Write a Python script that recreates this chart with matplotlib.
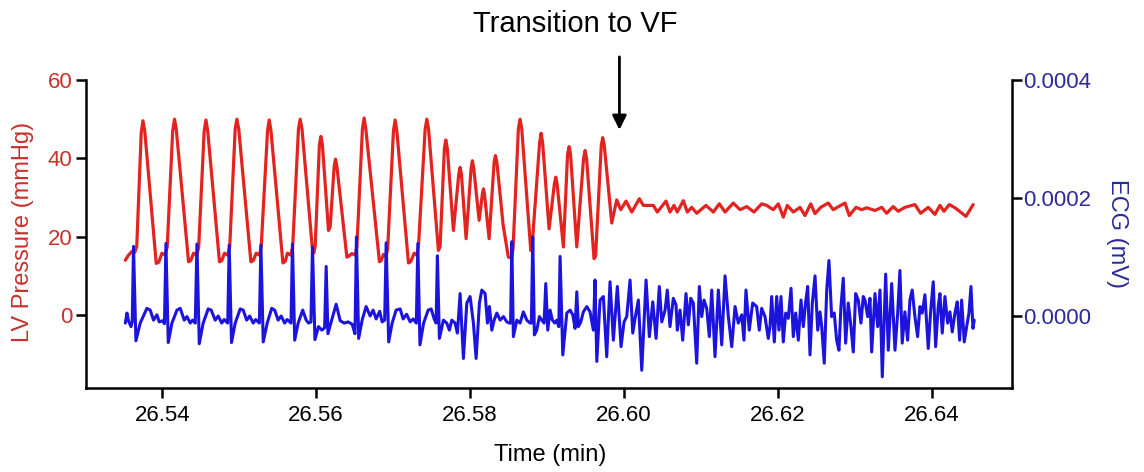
import matplotlib
matplotlib.use("Agg")
import matplotlib.pyplot as plt
from matplotlib.ticker import FormatStrFormatter

plt.rcParams["font.family"] = ["Liberation Sans", "DejaVu Sans"]

# LV pressure trace, vertices (time in min, pressure in mmHg)
pressure_time = [
    26.53520, 26.53558, 26.53604, 26.53643, 26.53669, 26.53727, 26.53749, 26.53773,
    26.53922, 26.53955, 26.53996, 26.54039, 26.54065, 26.54136, 26.54160, 26.54182,
    26.54342, 26.54370, 26.54407, 26.54451, 26.54474, 26.54545, 26.54568, 26.54591,
    26.54744, 26.54773, 26.54809, 26.54853, 26.54877, 26.54948, 26.54970, 26.54994,
    26.55152, 26.55182, 26.55221, 26.55264, 26.55286, 26.55368, 26.55390, 26.55413,
    26.55568, 26.55597, 26.55627, 26.55671, 26.55695, 26.55770, 26.55792, 26.55816,
    26.55948, 26.55968, 26.55987, 26.56042, 26.56061, 26.56081,
    26.56160, 26.56182, 26.56234, 26.56251, 26.56269,
    26.56399, 26.56422, 26.56464, 26.56507, 26.56529, 26.56601, 26.56623, 26.56645,
    26.56822, 26.56844, 26.56874, 26.56909, 26.56929, 26.57004, 26.57026, 26.57048,
    26.57199, 26.57227, 26.57273, 26.57308, 26.57329, 26.57416, 26.57438, 26.57460,
    26.57588, 26.57610, 26.57666, 26.57684, 26.57704,
    26.57783, 26.57853, 26.57870, 26.57887,
    26.57948, 26.58013, 26.58030, 26.58047,
    26.58117, 26.58160, 26.58173, 26.58186,
    26.58247, 26.58312, 26.58329, 26.58348,
    26.58429, 26.58497, 26.58539, 26.58558, 26.58627, 26.58649, 26.58671,
    26.58788, 26.58805, 26.58903, 26.58922, 26.58942,
    26.59026, 26.59095, 26.59113, 26.59130,
    26.59212, 26.59266, 26.59286, 26.59305,
    26.59386, 26.59474, 26.59494, 26.59513,
    26.59610, 26.59630, 26.59704, 26.59723, 26.59743,
    26.59840,
    26.59905, 26.59957, 26.60026, 26.60100, 26.60199, 26.60251, 26.60381, 26.60432,
    26.60545, 26.60597, 26.60649, 26.60692, 26.60770, 26.60822, 26.60879, 26.60944,
    26.61065, 26.61160, 26.61238, 26.61312, 26.61419, 26.61507, 26.61594, 26.61688,
    26.61788, 26.61853, 26.61939, 26.62004, 26.62069, 26.62121, 26.62199, 26.62286,
    26.62351, 26.62425, 26.62481, 26.62555, 26.62653, 26.62718, 26.62770, 26.62870,
    26.62926, 26.63013, 26.63087, 26.63152, 26.63260, 26.63347, 26.63412, 26.63497,
    26.63562, 26.63649, 26.63779, 26.63853, 26.63952, 26.64039, 26.64104, 26.64156,
    26.64225, 26.64299, 26.64442, 26.64536,
]
pressure_mmhg = [
    14.0, 15.2, 16.2, 16.0, 17.5, 46.5, 49.6, 47.0,
    13.2, 13.5, 15.8, 15.3, 17.5, 47.0, 50.0, 47.5,
    13.6, 13.9, 15.8, 15.3, 17.5, 47.0, 49.8, 47.0,
    13.6, 13.9, 15.8, 15.3, 17.5, 47.5, 50.0, 47.5,
    13.6, 13.9, 15.8, 15.3, 17.5, 47.0, 49.8, 47.0,
    13.3, 13.7, 15.8, 15.3, 17.5, 47.5, 50.0, 47.5,
    17.5, 15.8, 17.5, 43.5, 45.6, 43.5,
    21.6, 22.5, 38.0, 39.8, 38.0,
    14.8, 15.0, 15.7, 15.3, 17.5, 47.5, 50.3, 47.5,
    13.6, 13.9, 15.5, 15.0, 17.0, 47.0, 49.8, 47.0,
    13.3, 13.6, 15.8, 15.3, 17.5, 47.5, 50.0, 47.5,
    16.5, 17.5, 42.5, 44.7, 42.5,
    21.6, 36.0, 37.7, 36.0,
    19.5, 37.5, 39.4, 37.5,
    24.2, 31.0, 32.2, 31.0,
    19.5, 39.0, 40.7, 39.0,
    23.0, 14.8, 14.6, 17.0, 47.5, 50.0, 47.5,
    16.5, 17.5, 44.0, 46.4, 44.0,
    22.0, 33.5, 35.2, 33.5,
    17.4, 41.0, 43.0, 41.0,
    17.4, 40.0, 42.0, 40.0,
    14.4, 15.0, 43.3, 45.3, 43.3,
    23.5,
    29.4, 26.9, 29.1, 26.3, 29.7, 28.0, 28.0, 26.3,
    29.1, 26.3, 28.0, 26.3, 29.2, 26.3, 27.5, 26.0,
    28.0, 26.3, 28.4, 26.3, 28.6, 26.9, 27.7, 26.3,
    28.4, 28.0, 26.9, 28.4, 25.0, 28.0, 26.3, 27.5,
    25.4, 28.4, 25.9, 27.5, 28.6, 26.9, 27.5, 28.6,
    25.4, 27.5, 26.9, 27.4, 26.7, 27.5, 26.0, 27.7,
    26.5, 27.5, 28.2, 26.0, 27.5, 25.7, 28.0, 26.5,
    28.2, 27.4, 25.2, 28.2,
]

# ECG trace, vertices (time in min, ECG in mV)
ecg_time = [
    26.53520, 26.53542, 26.53562, 26.53594, 26.53610, 26.53627, 26.53658, 26.53714,
    26.53801, 26.53844, 26.53887, 26.53931, 26.53961, 26.54004, 26.54029,
    26.54048, 26.54078, 26.54126, 26.54191, 26.54234, 26.54286, 26.54321, 26.54364,
    26.54394, 26.54429,
    26.54451, 26.54481, 26.54532, 26.54597, 26.54636, 26.54688, 26.54727, 26.54773,
    26.54805, 26.54851,
    26.54870, 26.54900, 26.54948, 26.55013, 26.55052, 26.55097, 26.55136, 26.55182,
    26.55214, 26.55262,
    26.55282, 26.55312, 26.55364, 26.55422, 26.55461, 26.55506, 26.55545, 26.55591,
    26.55623, 26.55673,
    26.55692, 26.55721, 26.55766, 26.55825, 26.55870, 26.55903, 26.55932,
    26.55952, 26.55984, 26.56030, 26.56074, 26.56110,
    26.56130, 26.56153, 26.56195, 26.56260, 26.56312, 26.56364, 26.56416, 26.56468,
    26.56504,
    26.56523, 26.56552, 26.56597, 26.56649, 26.56701, 26.56740, 26.56779, 26.56825,
    26.56857, 26.56890,
    26.56909, 26.56942, 26.56987, 26.57039, 26.57091, 26.57130, 26.57175, 26.57221,
    26.57260, 26.57301,
    26.57321, 26.57348, 26.57396, 26.57455, 26.57494, 26.57533, 26.57558,
    26.57575, 26.57601, 26.57653, 26.57697, 26.57731, 26.57762, 26.57805, 26.57835,
    26.57870, 26.57913, 26.57957, 26.58000, 26.58043, 26.58078, 26.58121, 26.58152,
    26.58195, 26.58225, 26.58251, 26.58282, 26.58312, 26.58347, 26.58390, 26.58433,
    26.58477, 26.58510, 26.58526,
    26.58542, 26.58562, 26.58607, 26.58649, 26.58692, 26.58736, 26.58779, 26.58796,
    26.58814, 26.58835, 26.58866, 26.58900, 26.58931, 26.58961, 26.58983, 26.59009,
    26.59039, 26.59069, 26.59100, 26.59126, 26.59152,
    26.59169, 26.59204, 26.59256, 26.59299, 26.59334, 26.59364, 26.59386, 26.59407,
    26.59438, 26.59471, 26.59516, 26.59558, 26.59601, 26.59623, 26.59646, 26.59688,
    26.59731, 26.59775, 26.59818, 26.59861, 26.59913, 26.59961, 26.60000, 26.60035,
    26.60078, 26.60113, 26.60143, 26.60186, 26.60230, 26.60286, 26.60329, 26.60373,
    26.60416, 26.60458, 26.60490, 26.60533, 26.60562, 26.60597, 26.60640, 26.60675,
    26.60692, 26.60727, 26.60762, 26.60805, 26.60835, 26.60866, 26.60900, 26.60944,
    26.60978, 26.61009, 26.61039, 26.61074, 26.61108, 26.61139, 26.61182, 26.61225,
    26.61269, 26.61312, 26.61355, 26.61399, 26.61442, 26.61484, 26.61529, 26.61558,
    26.61584, 26.61627, 26.61671, 26.61723, 26.61757, 26.61788, 26.61831, 26.61874,
    26.61896, 26.61918, 26.61952, 26.61983, 26.62013, 26.62039, 26.62069, 26.62100,
    26.62134, 26.62169, 26.62199, 26.62230, 26.62264, 26.62299, 26.62329, 26.62360,
    26.62386, 26.62416, 26.62446, 26.62481, 26.62516, 26.62546, 26.62568, 26.62601,
    26.62633, 26.62662, 26.62697, 26.62731, 26.62762, 26.62792, 26.62818, 26.62848,
    26.62879, 26.62913, 26.62948, 26.62978, 26.63009, 26.63043, 26.63078, 26.63108,
    26.63130, 26.63165, 26.63195, 26.63217, 26.63260, 26.63295, 26.63325, 26.63355,
    26.63399, 26.63433, 26.63477, 26.63520, 26.63555, 26.63584, 26.63614, 26.63649,
    26.63684, 26.63714, 26.63744, 26.63779, 26.63814, 26.63844, 26.63874, 26.63909,
    26.63952, 26.63983, 26.64017, 26.64048, 26.64082, 26.64104, 26.64134, 26.64169,
    26.64204, 26.64234, 26.64264, 26.64299, 26.64329, 26.64360, 26.64386, 26.64420,
    26.64451, 26.64481, 26.64507, 26.64533, 26.64549,
]
ecg_mv = [
    -0.12e-4, 0.05e-4, -0.08e-4, -0.18e-4, -0.10e-4, 1.18e-4, -0.42e-4, -0.12e-4,
    0.13e-4, 0.10e-4, -0.07e-4, 0.02e-4, -0.10e-4, -0.08e-4, -0.13e-4,
    1.23e-4, -0.45e-4, -0.12e-4, 0.10e-4, 0.13e-4, -0.07e-4, -0.01e-4, -0.12e-4,
    -0.07e-4, -0.12e-4,
    1.22e-4, -0.47e-4, -0.12e-4, 0.12e-4, 0.10e-4, -0.07e-4, 0.00e-4, -0.12e-4,
    -0.06e-4, -0.12e-4,
    1.20e-4, -0.45e-4, -0.12e-4, 0.12e-4, 0.10e-4, -0.07e-4, 0.00e-4, -0.12e-4,
    -0.06e-4, -0.12e-4,
    1.20e-4, -0.44e-4, -0.12e-4, 0.13e-4, 0.10e-4, -0.07e-4, 0.00e-4, -0.12e-4,
    -0.06e-4, -0.12e-4,
    1.22e-4, -0.41e-4, -0.12e-4, 0.10e-4, -0.07e-4, -0.12e-4, -0.10e-4,
    1.17e-4, -0.40e-4, -0.18e-4, -0.24e-4, -0.20e-4,
    0.84e-4, -0.30e-4, -0.10e-4, 0.20e-4, -0.08e-4, -0.12e-4, -0.10e-4, -0.14e-4,
    -0.30e-4,
    1.34e-4, -0.38e-4, -0.07e-4, 0.16e-4, 0.00e-4, 0.10e-4, -0.05e-4, 0.08e-4,
    -0.10e-4, -0.07e-4,
    1.24e-4, -0.44e-4, -0.12e-4, 0.10e-4, 0.12e-4, -0.05e-4, 0.03e-4, -0.10e-4,
    -0.05e-4, -0.12e-4,
    1.23e-4, -0.49e-4, -0.12e-4, 0.10e-4, 0.12e-4, -0.05e-4, -0.12e-4,
    1.02e-4, -0.38e-4, -0.07e-4, -0.12e-4, -0.24e-4, -0.07e-4, -0.12e-4, -0.29e-4,
    0.38e-4, -0.72e-4, 0.22e-4, 0.33e-4, -0.12e-4, -0.72e-4, 0.22e-4, 0.44e-4,
    0.38e-4, -0.12e-4, 0.16e-4, -0.24e-4, -0.07e-4, 0.05e-4, -0.07e-4, -0.01e-4,
    -0.10e-4, -0.12e-4, -0.12e-4,
    1.26e-4, -0.35e-4, -0.07e-4, -0.12e-4, 0.07e-4, -0.07e-4, -0.12e-4, -0.12e-4,
    1.34e-4, -0.32e-4, -0.24e-4, -0.01e-4, -0.07e-4, -0.12e-4, 0.55e-4, -0.24e-4,
    0.10e-4, -0.07e-4, -0.12e-4, -0.07e-4, -0.18e-4,
    1.01e-4, -0.66e-4, 0.05e-4, 0.10e-4, 0.02e-4, -0.21e-4, 0.41e-4, -0.18e-4,
    -0.10e-4, 0.07e-4, 0.16e-4, 0.07e-4, -0.24e-4, 0.61e-4, -0.77e-4, 0.27e-4,
    0.33e-4, -0.69e-4, 0.58e-4, -0.41e-4, 0.50e-4, -0.52e-4, -0.10e-4, -0.01e-4,
    0.61e-4, -0.29e-4, -0.04e-4, 0.27e-4, -0.92e-4, 0.61e-4, -0.35e-4, 0.24e-4,
    -0.38e-4, 0.50e-4, -0.10e-4, 0.10e-4, 0.44e-4, -0.18e-4, 0.30e-4, 0.19e-4,
    -0.24e-4, 0.10e-4, -0.41e-4, 0.38e-4, -0.15e-4, 0.30e-4, 0.22e-4, -0.80e-4,
    0.50e-4, -0.01e-4, 0.27e-4, 0.13e-4, -0.35e-4, 0.44e-4, -0.69e-4, 0.44e-4,
    -0.49e-4, 0.68e-4, -0.01e-4, -0.52e-4, 0.16e-4, -0.12e-4, 0.02e-4, -0.41e-4,
    0.44e-4, -0.24e-4, 0.22e-4, 0.16e-4, -0.24e-4, 0.13e-4, -0.01e-4, -0.38e-4,
    -0.18e-4, 0.33e-4, -0.44e-4, 0.33e-4, -0.24e-4, 0.33e-4, -0.44e-4, 0.05e-4,
    -0.04e-4, 0.47e-4, -0.35e-4, 0.05e-4, -0.41e-4, 0.27e-4, -0.18e-4, 0.24e-4,
    0.50e-4, -0.66e-4, 0.22e-4, 0.68e-4, -0.24e-4, 0.07e-4, -0.18e-4, -0.80e-4,
    0.44e-4, 0.94e-4, -0.01e-4, 0.05e-4, -0.41e-4, -0.58e-4, 0.16e-4, 0.64e-4,
    -0.46e-4, 0.22e-4, -0.18e-4, -0.61e-4, 0.38e-4, 0.27e-4, -0.12e-4, 0.33e-4,
    0.27e-4, -0.01e-4, 0.30e-4, -0.61e-4, 0.38e-4, -0.18e-4, 0.44e-4, -1.03e-4,
    0.71e-4, -0.58e-4, 0.55e-4, -0.58e-4, 0.05e-4, 0.77e-4, -0.46e-4, 0.07e-4,
    -0.41e-4, 0.27e-4, 0.44e-4, -0.01e-4, -0.35e-4, 0.16e-4, 0.05e-4, 0.36e-4,
    -0.55e-4, 0.07e-4, 0.58e-4, -0.52e-4, 0.16e-4, 0.38e-4, -0.29e-4, 0.33e-4,
    -0.12e-4, 0.07e-4, -0.27e-4, 0.05e-4, 0.24e-4, -0.41e-4, 0.27e-4, -0.44e-4,
    -0.18e-4, 0.05e-4, 0.50e-4, -0.21e-4, -0.07e-4,
]

assert len(pressure_time) == len(pressure_mmhg)
assert len(ecg_time) == len(ecg_mv)

time_ticks = [26.54, 26.56, 26.58, 26.60, 26.62, 26.64]
pressure_ticks = [0, 20, 40, 60]
ecg_ticks = [0.0, 0.0002, 0.0004]
vf_time = 26.5994  # onset of ventricular fibrillation (arrow)

RED = "#E3231F"
RED_TEXT = "#C8302B"
BLUE = "#1C14DD"
BLUE_TEXT = "#2B2A98"

fig = plt.figure(figsize=(11.44, 4.72), dpi=100)
ax = fig.add_axes([0.0752, 0.1780, 0.8094, 0.6525])
ax2 = ax.twinx()

ax.plot(pressure_time, pressure_mmhg, color=RED, lw=2.3,
        solid_joinstyle="round", solid_capstyle="round")
ax2.plot(ecg_time, ecg_mv, color=BLUE, lw=2.2,
         solid_joinstyle="round", solid_capstyle="round")

ax.set_xlim(26.5301, 26.6504)
ax.set_ylim(-18.6, 60)
ax2.set_ylim(-1.22e-4, 4e-4)

ax.set_xticks(time_ticks)
ax.xaxis.set_major_formatter(FormatStrFormatter("%.2f"))
ax.set_yticks(pressure_ticks)
ax2.set_yticks(ecg_ticks)
ax2.yaxis.set_major_formatter(FormatStrFormatter("%.4f"))

for a in (ax, ax2):
    a.spines["top"].set_visible(False)
    for s in a.spines.values():
        s.set_linewidth(1.8)
ax.spines["right"].set_visible(False)
ax2.spines["left"].set_visible(False)
ax2.spines["bottom"].set_visible(False)

ax.tick_params(axis="both", width=1.8, length=7, labelsize=16)
ax.tick_params(axis="x", pad=5)
ax.tick_params(axis="y", labelcolor=RED_TEXT, pad=3)
ax2.tick_params(axis="y", width=1.8, length=7, labelsize=16, labelcolor=BLUE_TEXT, pad=1)

ax.set_xlabel("Time (min)", fontsize=17)
ax.xaxis.set_label_coords(0.501, -0.2175)
ax.xaxis.label.set_verticalalignment("center")

ax.set_ylabel("LV Pressure (mmHg)", fontsize=17, color=RED_TEXT)
ax.yaxis.set_label_coords(-0.068, 0.506)
ax.yaxis.label.set_verticalalignment("center")

ax2.set_ylabel("ECG (mV)", fontsize=17, color=BLUE_TEXT, rotation=270)
ax2.yaxis.set_label_coords(1.1134, 0.50)
ax2.yaxis.label.set_verticalalignment("center")

ax.text(0.528, 1.182, "Transition to VF", transform=ax.transAxes,
        ha="center", va="center", fontsize=21)
ax.annotate("", xy=(vf_time, 0.838), xycoords=("data", "axes fraction"),
            xytext=(vf_time, 1.075), textcoords=("data", "axes fraction"),
            arrowprops=dict(arrowstyle="-|>,head_length=0.85,head_width=0.42",
                            lw=2, color="black", shrinkA=0, shrinkB=0),
            annotation_clip=False)

fig.savefig("out.png", dpi=100)
plt.close(fig)
